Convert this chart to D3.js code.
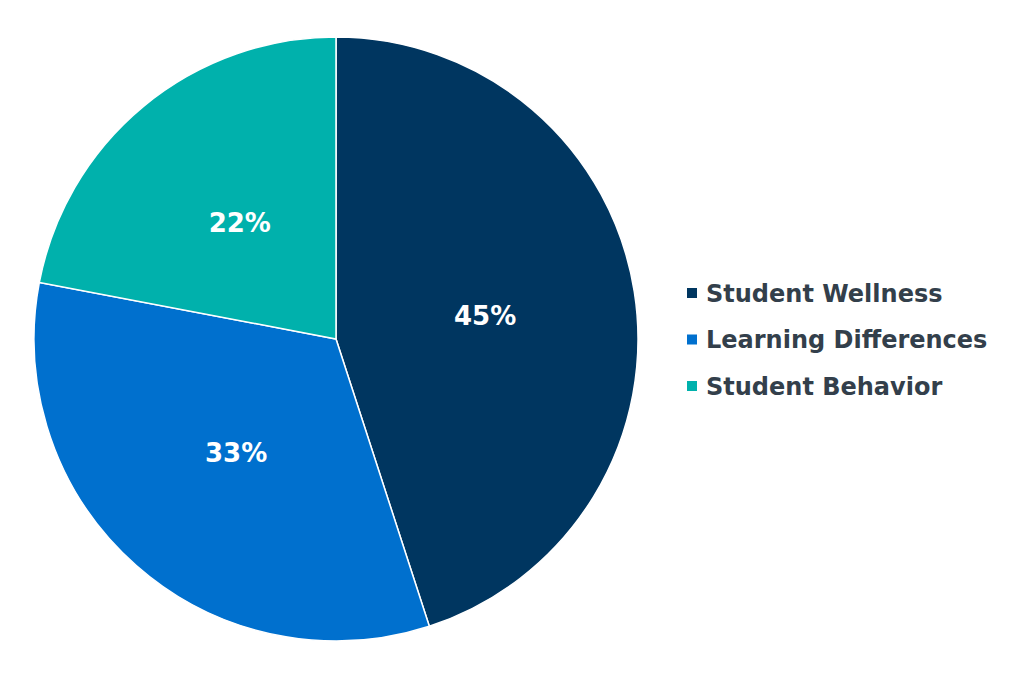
<!DOCTYPE html>
<html><head><meta charset="utf-8">
<script src="https://cdn.jsdelivr.net/npm/d3@7/dist/d3.min.js"></script>
<style>body{margin:0;background:#fff;}svg{display:block;}</style>
</head><body>
<svg id="c" width="1024" height="684"></svg>
<script>
const categories = ["Student Wellness", "Learning Differences", "Student Behavior"];
const values = [45, 33, 22];
const colors = ["#003660", "#0070ce", "#00b1ac"];

const svg = d3.select("#c");
const cx = 336, cy = 339, R = 302;
const pie = d3.pie().sort(null).value(d => d)(values);
const arc = d3.arc().innerRadius(0).outerRadius(R);
const labelArc = d3.arc().innerRadius(R * 0.5).outerRadius(R * 0.5);
const g = svg.append("g").attr("transform", `translate(${cx},${cy})`);
g.selectAll("path").data(pie).join("path")
  .attr("d", arc).attr("fill", (d, i) => colors[i])
  .attr("stroke", "#fff").attr("stroke-width", 1.5);
g.selectAll("text").data(pie).join("text")
  .attr("transform", d => `translate(${labelArc.centroid(d)})`)
  .attr("text-anchor", "middle").attr("dy", "0.36em")
  .attr("font-family", "DejaVu Sans, Verdana, sans-serif")
  .attr("font-weight", "bold").attr("font-size", 26).attr("fill", "#fff")
  .text(d => d.data + "%");

const y = d3.scalePoint().domain(categories).range([293, 386]);
const lg = svg.append("g");
const items = lg.selectAll("g").data(categories).join("g")
  .attr("transform", d => `translate(687,${y(d)})`);
items.append("rect").attr("x", 0).attr("y", -5).attr("width", 10).attr("height", 10)
  .attr("fill", (d, i) => colors[i]);
items.append("text").attr("x", 19).attr("dy", "0.36em")
  .attr("font-family", "DejaVu Sans, Verdana, sans-serif")
  .attr("font-weight", "bold").attr("font-size", 24).attr("fill", "#333f4b")
  .text(d => d);
</script>
</body></html>
